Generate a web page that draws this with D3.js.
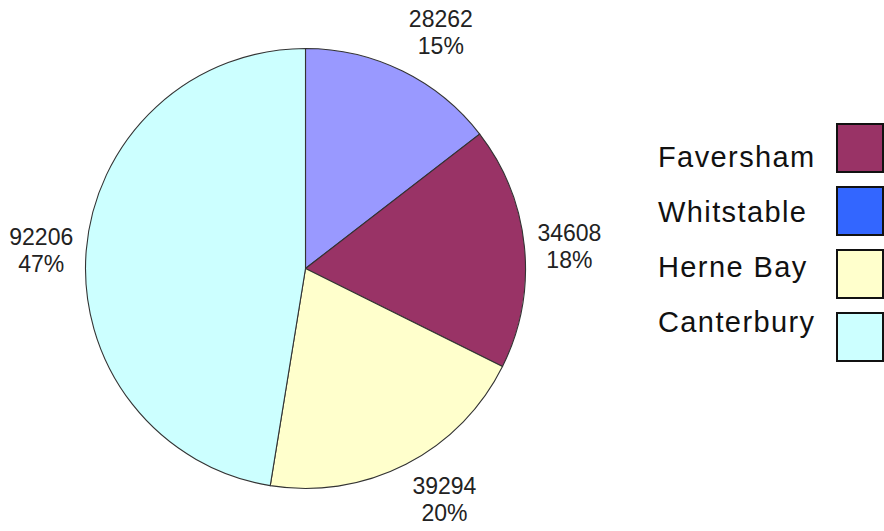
<!DOCTYPE html>
<html>
<head>
<meta charset="utf-8">
<script src="https://cdn.jsdelivr.net/npm/d3@7"></script>
<style>
  body { margin: 0; background: #fff; }
  svg { display: block; font-family: "Liberation Sans", Arial, sans-serif; }
</style>
</head>
<body>
<svg id="chart" width="884" height="531"></svg>
<script>
const sliceValues = [28262, 34608, 39294, 92206];
const sliceColors = ["#9999ff", "#993366", "#ffffcc", "#ccffff"];
const legendNames = ["Faversham", "Whitstable", "Herne Bay", "Canterbury"];
const legendColors = ["#993366", "#3366ff", "#ffffcc", "#ccffff"];

const svg = d3.select("#chart");
const cx = 305.5, cy = 268.5, radius = 220;
const labelR = 232;
const capH = 16.5, lineGap = 27;

const total = d3.sum(sliceValues);
const pie = d3.pie().sort(null).value((d) => d);
const arcs = pie(sliceValues);
const arc = d3.arc().innerRadius(0).outerRadius(radius);

const g = svg.append("g").attr("transform", `translate(${cx},${cy})`);

g.selectAll("path")
  .data(arcs)
  .enter()
  .append("path")
  .attr("d", arc)
  .attr("fill", (d, i) => sliceColors[i])
  .attr("stroke", "#333")
  .attr("stroke-width", 1.1);

// labels sit just outside the rim, box side/corner touching the anchor point
function labelPos(d) {
  const a = (d.startAngle + d.endAngle) / 2;
  const ux = Math.sin(a), uy = -Math.cos(a);
  const px = ux * labelR, py = uy * labelR;
  const anchor = ux > 0.3 ? "start" : ux < -0.3 ? "end" : "middle";
  const h = capH + lineGap;
  let y1;
  if (uy > 0.3) y1 = py + 3 + capH;
  else if (uy < -0.3) y1 = py - 6 - lineGap;
  else y1 = py - h / 2 + capH;
  return { x: px, y1, anchor };
}

g.selectAll("text.lbl")
  .data(arcs)
  .enter()
  .append("text")
  .attr("class", "lbl")
  .attr("font-size", 23)
  .attr("fill", "#222")
  .attr("text-anchor", "middle")
  .each(function (d) {
    const p = labelPos(d);
    const t = d3.select(this);
    const boxW = 66;
    const xc = p.anchor === "start" ? p.x + boxW / 2 : p.anchor === "end" ? p.x - boxW / 2 : p.x;
    t.append("tspan").attr("x", xc).attr("y", p.y1).text(d.data);
    t.append("tspan")
      .attr("x", xc)
      .attr("y", p.y1 + lineGap)
      .text(Math.round((d.data / total) * 100) + "%");
  });

// legend
const boxY = d3.scaleLinear().domain([0, 3]).range([124, 313]);
const textY = d3.scaleLinear().domain([0, 3]).range([167, 332]);

const legend = svg.append("g");
legend
  .selectAll("rect")
  .data(legendNames)
  .enter()
  .append("rect")
  .attr("x", 837)
  .attr("y", (d, i) => boxY(i))
  .attr("width", 46)
  .attr("height", 48)
  .attr("fill", (d, i) => legendColors[i])
  .attr("stroke", "#111")
  .attr("stroke-width", 2);

legend
  .selectAll("text")
  .data(legendNames)
  .enter()
  .append("text")
  .attr("x", 658)
  .attr("y", (d, i) => textY(i))
  .attr("font-size", 29)
  .attr("letter-spacing", 1.4)
  .attr("fill", "#111")
  .text((d) => d);
</script>
</body>
</html>
